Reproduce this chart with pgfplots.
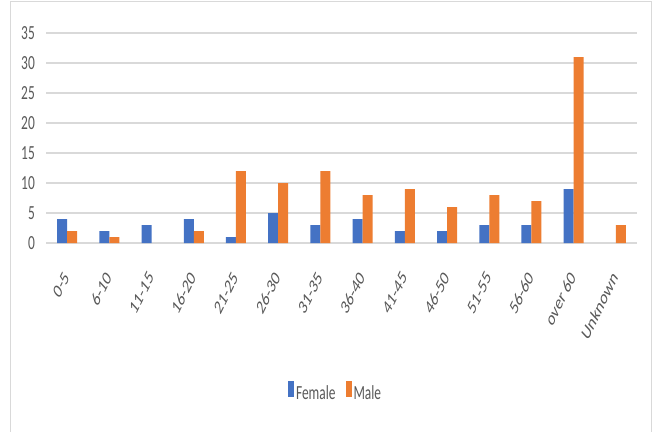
\documentclass[border=0pt]{standalone}
\usepackage{fontspec}
\setmainfont{Carlito}
\usepackage{graphicx}
\usepackage{pgfplots}
\pgfplotsset{compat=1.18}

\definecolor{femaleblue}{HTML}{4472C4}
\definecolor{maleorange}{HTML}{ED7D31}
\definecolor{labelgray}{HTML}{595959}
\definecolor{gridgray}{HTML}{D9D9D9}

% condensed text, and condensed rotated category labels
\newcommand\sx[1]{\scalebox{0.67}[1]{#1}}
\newcommand\rl[1]{\scalebox{0.67}[1]{\rotatebox{54}{#1}}}
\newcommand\chartfont{\fontsize{20}{24}\selectfont}

\begin{document}
\begin{tikzpicture}[x=1pt,y=1pt]
\useasboundingbox (0,0) rectangle (655,431);
\draw[gridgray, line width=1pt] (10,-5) rectangle (651,429);
\begin{axis}[
  at={(46pt,188pt)}, anchor=south west,
  scale only axis, width=591pt, height=210pt,
  xmin=-0.5, xmax=13.5, ymin=0, ymax=35,
  ybar, bar width=10pt,
  axis line style={draw=none},
  major tick length=0pt,
  ymajorgrids, grid style={gridgray, line width=1.4pt},
  ytick={0,5,...,35},
  yticklabel={\sx{\pgfmathprintnumber[assume math mode=true]{\tick}}},
  yticklabel style={anchor=east, inner sep=0pt, xshift=-11pt},
  xtick={0,...,13},
  xticklabels={\rl{0-5},\rl{6-10},\rl{11-15},\rl{16-20},\rl{21-25},\rl{26-30},\rl{31-35},\rl{36-40},\rl{41-45},\rl{46-50},\rl{51-55},\rl{56-60},\rl{over 60},\rl{Unknown}},
  xticklabel style={anchor=north east, inner sep=0pt, xshift=3pt, yshift=-27pt},
  tick label style={font=\chartfont, text=labelgray},
  legend columns=2,
  legend style={at={(axis description cs:0.49,-0.7095)}, anchor=center,
    draw=none, fill=none, font=\chartfont, text=labelgray,
    /tikz/every even column/.append style={column sep=8pt},
    nodes={inner sep=2pt}},
  legend image code/.code={\fill[#1] (0pt,-3pt) rectangle (6pt,13pt);},
]
\addplot[fill=femaleblue, draw=none, bar shift=-5pt] coordinates {
  (0,4) (1,2) (2,3) (3,4) (4,1) (5,5) (6,3) (7,4) (8,2) (9,2) (10,3) (11,3) (12,9)};
\addlegendentry{\sx{Female}}
\addplot[fill=maleorange, draw=none, bar shift=5pt] coordinates {
  (0,2) (1,1) (3,2) (4,12) (5,10) (6,12) (7,8) (8,9) (9,6) (10,8) (11,7) (12,31) (13,3)};
\addlegendentry{\sx{Male}}
\end{axis}
\end{tikzpicture}
\end{document}
